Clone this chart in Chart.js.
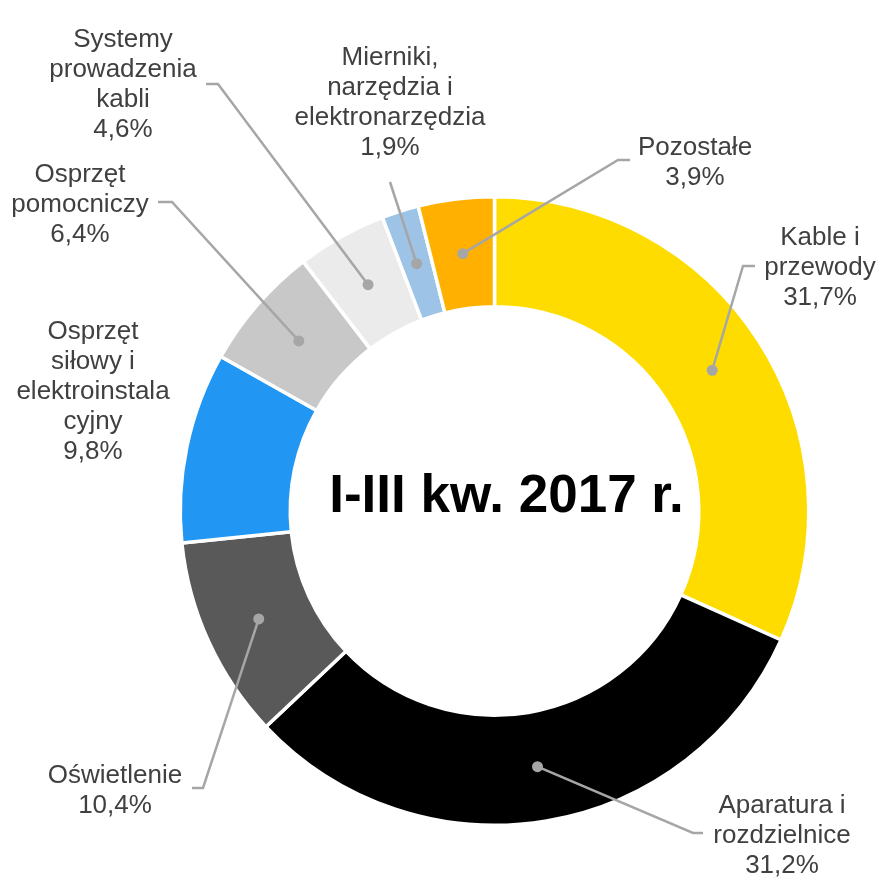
<!DOCTYPE html>
<html>
<head>
<meta charset="utf-8">
<script src="https://cdn.jsdelivr.net/npm/chart.js@4/dist/chart.umd.min.js"></script>
<style>
  html, body { margin: 0; padding: 0; background: #fff; }
  #wrap { width: 881px; height: 877px; }
</style>
</head>
<body>
<div id="wrap"><canvas id="chart" width="881" height="877"></canvas></div>
<script>
// dane z wykresu (udział w %)
const categories = [
  ['Kable i', 'przewody'],
  ['Aparatura i', 'rozdzielnice'],
  ['Oświetlenie'],
  ['Osprzęt', 'siłowy i', 'elektroinstala', 'cyjny'],
  ['Osprzęt', 'pomocniczy'],
  ['Systemy', 'prowadzenia', 'kabli'],
  ['Mierniki,', 'narzędzia i', 'elektronarzędzia'],
  ['Pozostałe']
];
const shares = [31.7, 31.2, 10.4, 9.8, 6.4, 4.6, 1.9, 3.9];
const shareLabels = ['31,7%', '31,2%', '10,4%', '9,8%', '6,4%', '4,6%', '1,9%', '3,9%'];
const centerTitle = 'I-III kw. 2017 r.';

const colors = ['#FFDC00', '#000000', '#595959', '#2196F3', '#C8C8C8', '#EBEBEB', '#9DC3E6', '#FFB000'];

// pozycje etykiet: środek tekstu (x), linia bazowa pierwszego wiersza (y),
// załamanie linii odniesienia i koniec poziomego odcinka (null = brak linii)
const labelLayout = [
  { x: 820, y: 245, elbow: [743, 266], end: [755, 266] },
  { x: 782, y: 813, elbow: [693, 833], end: [703, 833] },
  { x: 115, y: 783, elbow: [203, 788], end: [192, 788] },
  { x: 93,  y: 339, elbow: null },
  { x: 80,  y: 182, elbow: [172, 202], end: [158, 202] },
  { x: 123, y: 47,  elbow: [218, 84],  end: [206, 84] },
  { x: 390, y: 65,  elbow: [390, 182], end: null },
  { x: 695, y: 155, elbow: [618, 160], end: [630, 160] }
];

const LINE_H = 30;

const labelsPlugin = {
  id: 'outerLabels',
  afterDatasetsDraw(chart) {
    const ctx = chart.ctx;
    const arcs = chart.getDatasetMeta(0).data;
    ctx.save();

    // linie odniesienia i kropki
    arcs.forEach((arc, i) => {
      const lay = labelLayout[i];
      if (!lay.elbow) return;
      const p = arc.getCenterPoint();
      ctx.strokeStyle = '#A6A6A6';
      ctx.lineWidth = 2.5;
      ctx.beginPath();
      ctx.moveTo(p.x, p.y);
      ctx.lineTo(lay.elbow[0], lay.elbow[1]);
      if (lay.end) ctx.lineTo(lay.end[0], lay.end[1]);
      ctx.stroke();
      ctx.fillStyle = '#A6A6A6';
      ctx.beginPath();
      ctx.arc(p.x, p.y, 5.5, 0, Math.PI * 2);
      ctx.fill();
    });

    // teksty etykiet
    ctx.fillStyle = '#404040';
    ctx.font = '26px "Liberation Sans", Arial, sans-serif';
    ctx.textAlign = 'center';
    ctx.textBaseline = 'alphabetic';
    categories.forEach((lines, i) => {
      const lay = labelLayout[i];
      const all = lines.concat([shareLabels[i]]);
      all.forEach((t, k) => ctx.fillText(t, lay.x, lay.y + k * LINE_H));
    });

    // tytuł w środku
    const c = arcs[0];
    ctx.fillStyle = '#000000';
    ctx.font = 'bold 53px "Liberation Sans", Arial, sans-serif';
    ctx.fillText(centerTitle, c.x + 12, c.y + 1);
    ctx.restore();
  }
};

new Chart(document.getElementById('chart'), {
  type: 'doughnut',
  data: {
    labels: categories.map(l => l.join(' ')),
    datasets: [{
      data: shares,
      backgroundColor: colors,
      borderColor: '#ffffff',
      borderWidth: 3.5
    }]
  },
  options: {
    responsive: false,
    animation: false,
    cutout: '65%',
    layout: { padding: { left: 178.5, right: 70.5, top: 195, bottom: 50 } },
    plugins: {
      legend: { display: false },
      tooltip: { enabled: false }
    }
  },
  plugins: [labelsPlugin]
});
</script>
</body>
</html>
